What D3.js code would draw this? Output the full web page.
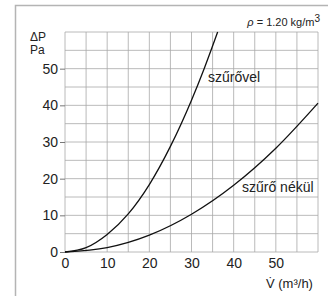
<!DOCTYPE html>
<html>
<head>
<meta charset="utf-8">
<script src="https://cdn.jsdelivr.net/npm/d3@7"></script>
<style>
  html, body { margin: 0; padding: 0; background: #fff; }
  svg { display: block; font-family: 'Liberation Sans', Arial, sans-serif; }
</style>
</head>
<body>
<svg id="chart" width="328" height="296"></svg>
<script>
// data
const flowWith = [0, 5, 10, 15, 20, 25, 30, 33, 36.2];
const dpWith = [0, 1.2, 4.8, 10.4, 18.4, 28.8, 41.4, 50, 60];
const flowWithout = [0, 10, 20, 30, 40, 50, 60];
const dpWithout = [0, 1.2, 4.6, 10.3, 18.2, 28.3, 40.6];
const xTicks = [0, 10, 20, 30, 40, 50];
const yTicks = [0, 10, 20, 30, 40, 50];
const gridSteps = d3.range(0, 61, 5);

const svg = d3.select('#chart');

// frame
svg.append('rect')
  .attr('x', 15.5).attr('y', 5.5)
  .attr('width', 330).attr('height', 300)
  .attr('fill', 'none').attr('stroke', '#b4b4b4').attr('stroke-width', 1.5);

const x = d3.scaleLinear().domain([0, 60]).range([65, 318]);
const y = d3.scaleLinear().domain([0, 60]).range([252, 32]);

// grid
const grid = svg.append('g').attr('stroke', '#a8a8a8').attr('stroke-width', 0.8);
grid.selectAll('.v').data(gridSteps).join('line')
  .attr('x1', d => x(d)).attr('x2', d => x(d))
  .attr('y1', y(0)).attr('y2', y(60));
grid.selectAll('.h').data(gridSteps).join('line')
  .attr('x1', x(0)).attr('x2', x(60))
  .attr('y1', d => y(d)).attr('y2', d => y(d));

// y axis
const yAxis = d3.axisLeft(y).tickValues(yTicks).tickSize(5).tickPadding(2);
const gy = svg.append('g').attr('transform', `translate(${x(0)},0)`).call(yAxis);
gy.select('.domain').remove();
gy.selectAll('line').attr('stroke', '#777');
gy.selectAll('text').attr('font-size', 14).attr('fill', '#222')
  .attr('font-family', "'Liberation Sans', Arial, sans-serif");

// x axis
const xAxis = d3.axisBottom(x).tickValues(xTicks).tickSize(0).tickPadding(6);
const gx = svg.append('g').attr('transform', `translate(0,${y(0)})`).call(xAxis);
gx.select('.domain').remove();
gx.selectAll('text').attr('font-size', 14).attr('fill', '#222')
  .attr('font-family', "'Liberation Sans', Arial, sans-serif");

// curves
const line = d3.line()
  .x(d => x(d[0]))
  .y(d => y(d[1]))
  .curve(d3.curveMonotoneX);

svg.append('path')
  .datum(flowWith.map((v, i) => [v, dpWith[i]]))
  .attr('d', line)
  .attr('fill', 'none').attr('stroke', '#111').attr('stroke-width', 1.3);

svg.append('path')
  .datum(flowWithout.map((v, i) => [v, dpWithout[i]]))
  .attr('d', line)
  .attr('fill', 'none').attr('stroke', '#111').attr('stroke-width', 1.3);

// labels
svg.append('text').attr('x', 208).attr('y', 82)
  .attr('font-size', 14).attr('fill', '#222').text('szűrővel');
svg.append('text').attr('x', 242).attr('y', 192)
  .attr('font-size', 14).attr('fill', '#222').text('szűrő nékül');

svg.append('text').attr('x', 30).attr('y', 41)
  .attr('font-size', 12).attr('fill', '#222').text('ΔP');
svg.append('text').attr('x', 30).attr('y', 54)
  .attr('font-size', 12).attr('fill', '#222').text('Pa');

svg.append('text').attr('x', 266).attr('y', 288)
  .attr('font-size', 13).attr('fill', '#222').text('V̇  (m³/h)');

const rho = svg.append('text').attr('x', 320).attr('y', 26)
  .attr('text-anchor', 'end').attr('font-size', 11).attr('fill', '#222');
rho.append('tspan').attr('font-style', 'italic').text('ρ');
rho.append('tspan').text(' = 1.20 kg/m');
rho.append('tspan').attr('dy', -4).attr('font-size', 10).text('3');
</script>
</body>
</html>
